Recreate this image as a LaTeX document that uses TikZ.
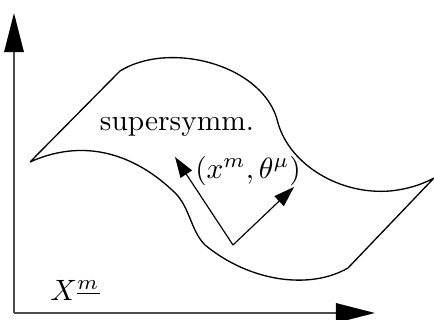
\documentclass[tikz,border=0pt]{standalone}
\usetikzlibrary{arrows.meta}
\begin{document}
\begin{tikzpicture}[x=0.34pt,y=-0.34pt,
  axis/.style={line width=0.7pt,draw=black!70,-{Triangle[length=13.3pt,width=6.6pt,fill=black,color=black]}},
  vec/.style={line width=0.4pt,-{Triangle[length=7pt,width=4.6pt]}},
  surf/.style={line width=0.45pt,line join=round}]
\useasboundingbox (0,0) rectangle (434,320);
\coordinate (o) at (14,313);
\coordinate (ytip) at (14,13);
\coordinate (xtip) at (375,313);
\draw[axis] (o) -- (ytip);
\draw[axis] (o) -- (xtip);
\draw[surf] (30,162) -- (120,71)
  .. controls (170,40) and (265,65) .. (278,123)
  .. controls (290,165) and (340,195) .. (390,191)
  .. controls (410,189) and (425,183) .. (434,178)
  -- (348,268)
  .. controls (310,290) and (250,282) .. (205,245)
  .. controls (190,230) and (190,205) .. (172,190)
  .. controls (140,160) and (90,135) .. (30,162);
\node (lbl) at (177,127) {supersymm.};
\node (xt) at (248,171) {$(x^m,\theta^\mu)$};
\node (X) at (75,290) {$X^{\underline{m}}$};
\coordinate (v) at (233,245);
\coordinate (a1) at (175,157);
\coordinate (a2) at (294,187);
\draw[vec] (v) -- (a1);
\draw[vec] (v) -- (a2);
\end{tikzpicture}
\end{document}
